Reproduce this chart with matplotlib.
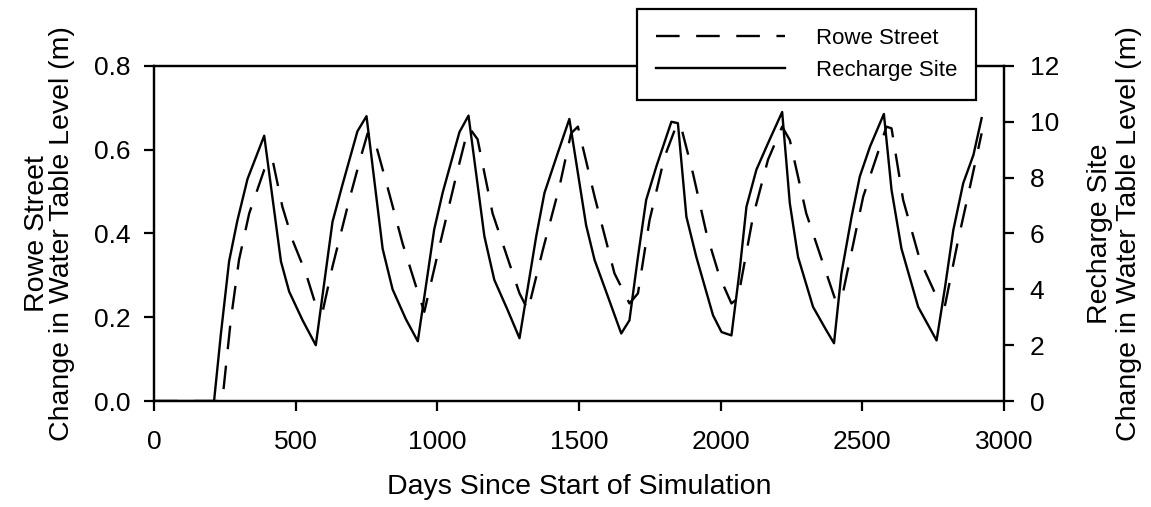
import numpy as np
import matplotlib
matplotlib.use('Agg')
import matplotlib.pyplot as plt

plt.rcParams['font.family'] = ['Liberation Sans', 'DejaVu Sans']

#--------------------------------------------------------------
# data
# Rowe Street (left axis, m)
rowe_days = [0, 241, 271, 300, 336, 389, 418, 453, 489, 536, 571, 595, 630, 689, 730, 754, 777,
             830, 877, 925, 954, 1007, 1066, 1101, 1115, 1142, 1195, 1254, 1290, 1320, 1372, 1431,
             1472, 1496, 1513, 1555, 1625, 1678, 1708, 1749, 1802, 1845, 1860, 1902, 1950, 1996,
             2038, 2061, 2114, 2167, 2217, 2244, 2302, 2361, 2403, 2426, 2456, 2503, 2550, 2585,
             2603, 2644, 2703, 2762, 2792, 2838, 2880, 2921]
rowe_level = [0, 0, 0.193, 0.337, 0.448, 0.552, 0.577, 0.464, 0.384, 0.305, 0.229, 0.213, 0.321,
              0.48, 0.583, 0.639, 0.627, 0.496, 0.377, 0.273, 0.213, 0.368, 0.536, 0.63, 0.65,
              0.625, 0.448, 0.329, 0.257, 0.217, 0.36, 0.512, 0.639, 0.655, 0.607, 0.488, 0.305,
              0.233, 0.257, 0.432, 0.583, 0.66, 0.655, 0.544, 0.4, 0.297, 0.233, 0.245, 0.44,
              0.576, 0.655, 0.623, 0.448, 0.329, 0.245, 0.241, 0.337, 0.488, 0.583, 0.655, 0.651,
              0.48, 0.337, 0.249, 0.229, 0.384, 0.512, 0.639]

# Recharge Site (right axis, m)
recharge_days = [0, 212, 236, 265, 294, 330, 389, 448, 477, 524, 571, 630, 665, 718, 750, 807,
                 842, 889, 931, 989, 1019, 1078, 1110, 1166, 1201, 1248, 1290, 1349, 1378, 1425,
                 1466, 1525, 1555, 1602, 1649, 1678, 1708, 1737, 1773, 1826, 1849, 1879, 1914,
                 1973, 2003, 2038, 2067, 2091, 2126, 2167, 2217, 2244, 2273, 2326, 2373, 2400,
                 2426, 2462, 2491, 2527, 2576, 2603, 2638, 2697, 2762, 2792, 2821, 2856, 2892, 2921]
recharge_level = [0, 0, 2.4, 5.0, 6.45, 7.95, 9.5, 5.0, 3.92, 2.9, 2.0, 6.42, 7.74, 9.66, 10.2,
                  5.45, 4.0, 2.93, 2.14, 6.15, 7.47, 9.63, 10.22, 5.9, 4.34, 3.26, 2.25, 5.9, 7.45,
                  8.88, 10.1, 6.3, 5.05, 3.74, 2.42, 2.89, 5.16, 7.2, 8.4, 10.0, 9.95, 6.6, 5.16,
                  3.07, 2.47, 2.35, 4.68, 6.96, 8.28, 9.23, 10.35, 7.08, 5.16, 3.37, 2.53, 2.07,
                  4.56, 6.6, 8.04, 9.11, 10.28, 7.56, 5.46, 3.37, 2.17, 4.09, 6.12, 7.8, 8.81, 10.13]

left_ticks = [0.0, 0.2, 0.4, 0.6, 0.8]
right_ticks = [0, 2, 4, 6, 8, 10, 12]
x_ticks = [0, 500, 1000, 1500, 2000, 2500, 3000]

#--------------------------------------------------------------
fig = plt.figure(figsize=(11.51, 5.07), dpi=100)
ax = fig.add_axes([0.1338, 0.209, 0.7385, 0.661])
ax2 = ax.twinx()

l1, = ax.plot(rowe_days, rowe_level, color='black', lw=1.7, dashes=(10, 7))
l2, = ax2.plot(recharge_days, recharge_level, color='black', lw=1.7)

ax.set_xlim(0, 3000)
ax.set_ylim(0, 0.8)
ax2.set_ylim(0, 12)
ax.set_xticks(x_ticks)
ax.set_yticks(left_ticks)
ax.set_yticklabels(['%.1f' % v for v in left_ticks])
ax2.set_yticks(right_ticks)

for a in (ax, ax2):
    for s in a.spines.values():
        s.set_linewidth(1.6)
    a.tick_params(labelsize=19, length=7.5, width=1.6)
ax.tick_params(axis='x', pad=13)
ax.tick_params(axis='y', pad=9.5)
ax2.tick_params(axis='y', pad=11)

ax.set_xlabel('Days Since Start of Simulation', fontsize=20.5, labelpad=15)
ax.set_ylabel('Rowe Street\nChange in Water Table Level (m)', fontsize=20.5,
              labelpad=13.5, linespacing=0.95)
ax2.set_ylabel('Recharge Site\nChange in Water Table Level (m)', fontsize=20.5,
               labelpad=20, linespacing=1.15)

leg = fig.legend([l1, l2], ['Rowe Street', 'Recharge Site'], loc='upper left',
                 bbox_to_anchor=(637 / 1151, 1 - 9 / 507), borderaxespad=0,
                 fontsize=16, handlelength=5.8, handletextpad=1.4, borderpad=0.85,
                 labelspacing=0.5, fancybox=False, framealpha=1, edgecolor='black')
leg.get_frame().set_linewidth(1.6)

plt.savefig('out.png', dpi=100)
